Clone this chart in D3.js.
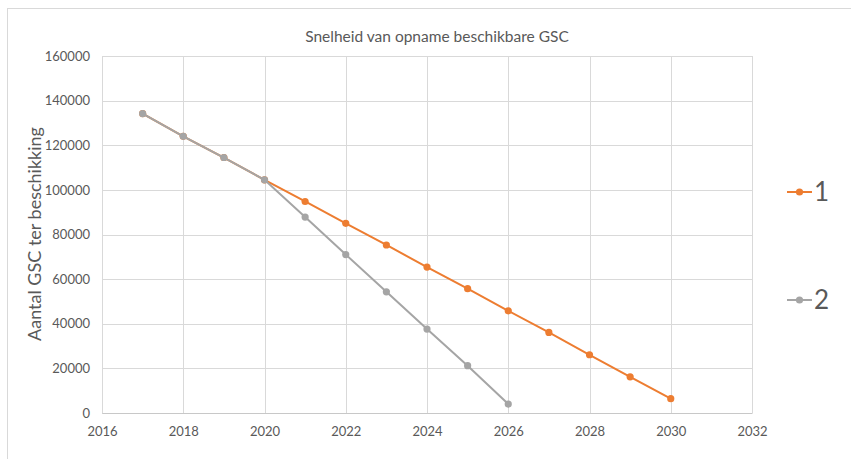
<!DOCTYPE html>
<html>
<head>
<meta charset="utf-8">
<script src="https://cdn.jsdelivr.net/npm/d3@7"></script>
<style>
  body { margin: 0; background: #fff; }
  text { font-family: Lato, "Open Sans", sans-serif; fill: #595959; }
</style>
</head>
<body>
<div id="holder"></div>
<script>
// data
var years1 = [2017, 2018, 2019, 2020, 2021, 2022, 2023, 2024, 2025, 2026, 2027, 2028, 2029, 2030];
var values1 = [134200, 124000, 114500, 104500, 94800, 85000, 75300, 65400, 55700, 45800, 36100, 26100, 16200, 6400];
var years2 = [2017, 2018, 2019, 2020, 2021, 2022, 2023, 2024, 2025, 2026];
var values2 = [134200, 124000, 114500, 104500, 87800, 71000, 54300, 37600, 21200, 4000];
var seriesNames = ['1', '2'];
var seriesColors = ['#ed7d31', '#a5a5a5'];
var xTicks = [2016, 2018, 2020, 2022, 2024, 2026, 2028, 2030, 2032];
var yTicks = [0, 20000, 40000, 60000, 80000, 100000, 120000, 140000, 160000];

function generateLineChart() {
  var fullWidth = 851;
  var fullHeight = 459;
  var margin = {top: 56, right: 99, bottom: 46, left: 102};
  var width = fullWidth - margin.left - margin.right;
  var height = fullHeight - margin.top - margin.bottom;

  var root = d3.select('#holder').append('svg')
    .attr('width', fullWidth)
    .attr('height', fullHeight);

  // chart frame
  root.append('rect')
    .attr('x', 7.5).attr('y', 8.5)
    .attr('width', 860).attr('height', 470)
    .attr('fill', 'none')
    .attr('stroke', '#d9d9d9');

  root.append('text')
    .attr('x', 437).attr('y', 42)
    .attr('text-anchor', 'middle')
    .style('font-size', '15.5px')
    .text('Snelheid van opname beschikbare GSC');

  root.append('text')
    .attr('transform', 'translate(41,234) rotate(-90)')
    .attr('text-anchor', 'middle')
    .style('font-size', '18px')
    .text('Aantal GSC ter beschikking');

  var svg = root.append('g')
    .attr('transform', 'translate(' + margin.left + ',' + margin.top + ')');

  var x = d3.scaleLinear().domain([2016, 2032]).range([0, width]);
  var y = d3.scaleLinear().domain([0, 160000]).range([height, 0]);

  // grid
  svg.append('g').selectAll('line.h')
    .data(yTicks)
    .enter().append('line')
    .attr('x1', 0).attr('x2', width)
    .attr('y1', function(d) { return Math.round(y(d)) + 0.5; })
    .attr('y2', function(d) { return Math.round(y(d)) + 0.5; })
    .attr('stroke', '#d9d9d9');
  svg.append('g').selectAll('line.v')
    .data(xTicks)
    .enter().append('line')
    .attr('y1', 0).attr('y2', height)
    .attr('x1', function(d) { return Math.round(x(d)) + 0.5; })
    .attr('x2', function(d) { return Math.round(x(d)) + 0.5; })
    .attr('stroke', '#d9d9d9');

  var xaxis = d3.axisBottom(x).tickValues(xTicks).tickFormat(d3.format('d')).tickSize(0).tickPadding(14);
  var yaxis = d3.axisLeft(y).tickValues(yTicks).tickFormat(d3.format('d')).tickSize(0).tickPadding(12);

  var gx = svg.append('g')
    .attr('transform', 'translate(0,' + height + ')')
    .call(xaxis);
  gx.select('.domain').attr('stroke', '#c8c8c8').attr('stroke-width', 1.2);
  gx.selectAll('text').style('font-size', '13px').style('font-family', 'Lato, sans-serif').attr('fill', '#595959');

  var gy = svg.append('g').call(yaxis);
  gy.select('.domain').remove();
  gy.selectAll('text').style('font-size', '13px').style('font-family', 'Lato, sans-serif').attr('fill', '#595959');

  var series = [
    years1.map(function(d, i) { return {year: d, value: values1[i]}; }),
    years2.map(function(d, i) { return {year: d, value: values2[i]}; })
  ];

  var line = d3.line()
    .x(function(d) { return x(d.year); })
    .y(function(d) { return y(d.value); });

  series.forEach(function(s, k) {
    svg.append('path')
      .datum(s)
      .attr('fill', 'none')
      .attr('stroke', seriesColors[k])
      .attr('stroke-width', 2)
      .attr('d', line);
    svg.selectAll('circle.s' + k)
      .data(s)
      .enter().append('circle')
      .attr('cx', function(d) { return x(d.year); })
      .attr('cy', function(d) { return y(d.value); })
      .attr('r', 3.6)
      .attr('fill', seriesColors[k]);
  });

  // legend
  var legendY = [192, 300];
  var legend = root.append('g');
  seriesNames.forEach(function(name, k) {
    legend.append('line')
      .attr('x1', 787).attr('x2', 812)
      .attr('y1', legendY[k]).attr('y2', legendY[k])
      .attr('stroke', seriesColors[k]).attr('stroke-width', 2);
    legend.append('circle')
      .attr('cx', 799.5).attr('cy', legendY[k]).attr('r', 3.6)
      .attr('fill', seriesColors[k]);
    legend.append('text')
      .attr('x', 814).attr('y', legendY[k] + 9)
      .style('font-size', '26px')
      .text(name);
  });
}

generateLineChart();
</script>
</body>
</html>
